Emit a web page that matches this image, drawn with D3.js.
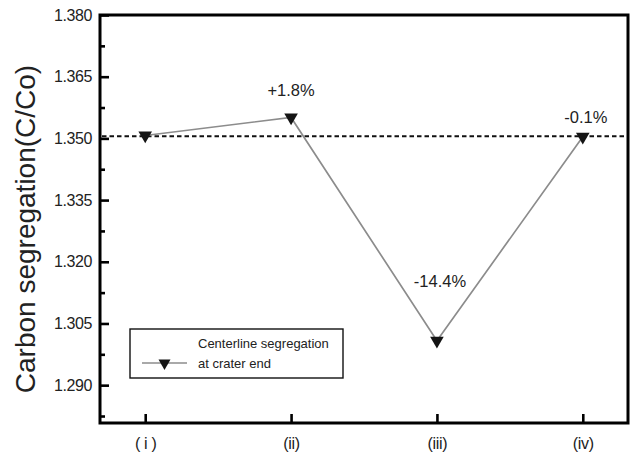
<!DOCTYPE html>
<html>
<head>
<meta charset="utf-8">
<script src="https://cdn.jsdelivr.net/npm/d3@7"></script>
<style>
  html, body { margin: 0; padding: 0; background: #fff; }
  svg { display: block; font-family: "Liberation Sans", Arial, Helvetica, sans-serif; }
</style>
</head>
<body>
<svg id="chart" width="637" height="455"></svg>
<script>
// Casting conditions on the x axis
const categories = ["( i )", "(ii)", "(iii)", "(iv)"];
// Centerline carbon segregation at the crater end (C/Co)
const segregation = [1.3507, 1.3551, 1.3008, 1.3504];
// Change relative to the reference condition
const changeLabels = ["", "+1.8%", "-14.4%", "-0.1%"];
// Reference level drawn as a dashed line
const referenceLevel = 1.3505;
// Axis ticks
const yMajorTicks = [1.290, 1.305, 1.320, 1.335, 1.350, 1.365, 1.380];
const yMinorTicks = [1.2825, 1.2975, 1.3125, 1.3275, 1.3425, 1.3575, 1.3725];
const yDomain = [1.2808, 1.380];
const legendLines = ["Centerline segregation", "at crater end"];

const svg = d3.select("#chart");
const plotLeft = 100, plotRight = 628, plotTop = 15, plotBottom = 423;

const x = d3.scalePoint().domain(categories).range([plotLeft, plotRight]).padding(0.31);
const y = d3.scaleLinear().domain(yDomain).range([plotBottom, plotTop]);

const axisColor = "#000";

// Y axis: major ticks with labels, minor ticks, both pointing inward
const yAxis = svg.append("g")
  .attr("transform", `translate(${plotLeft},0)`)
  .call(d3.axisLeft(y).tickValues(yMajorTicks).tickFormat(d3.format(".3f"))
    .tickSizeInner(-9).tickSizeOuter(0).tickPadding(8));
yAxis.select(".domain").remove();
yAxis.selectAll(".tick line").style("stroke", axisColor).style("stroke-width", "2.6px");
yAxis.selectAll(".tick text").attr("fill", "#222").attr("font-size", 16).attr("letter-spacing", -0.4);

const yMinor = svg.append("g")
  .attr("transform", `translate(${plotLeft},0)`)
  .call(d3.axisLeft(y).tickValues(yMinorTicks).tickFormat("")
    .tickSizeInner(-5).tickSizeOuter(0));
yMinor.select(".domain").remove();
yMinor.selectAll(".tick line").style("stroke", axisColor).style("stroke-width", "2.6px");

// X axis with inward ticks
const xAxis = svg.append("g")
  .attr("transform", `translate(0,${plotBottom})`)
  .call(d3.axisBottom(x).tickSizeInner(-9).tickSizeOuter(0).tickPadding(15));
xAxis.select(".domain").remove();
xAxis.selectAll(".tick line").style("stroke", axisColor).style("stroke-width", "2.6px");
xAxis.selectAll(".tick text").attr("fill", "#222").attr("font-size", 16).attr("letter-spacing", -0.3);

// Frame around the plot area, drawn as a closed path
svg.append("path")
  .attr("d", d3.path ? (() => {
    const p = d3.path();
    p.moveTo(plotLeft, plotTop);
    p.lineTo(plotRight, plotTop);
    p.lineTo(plotRight, plotBottom);
    p.lineTo(plotLeft, plotBottom);
    p.closePath();
    return p.toString();
  })() : "")
  .style("fill", "none")
  .style("stroke", "#000")
  .style("stroke-width", "3px");

// Reference level
svg.append("line")
  .attr("x1", plotLeft + 2).attr("x2", plotRight - 2)
  .attr("y1", y(referenceLevel)).attr("y2", y(referenceLevel))
  .attr("stroke", "#111").attr("stroke-width", 2)
  .attr("stroke-dasharray", "4.5,3");

const points = categories.map((c, i) => ({ c, v: segregation[i], label: changeLabels[i] }));

// Connecting line
svg.append("path")
  .datum(points)
  .attr("d", d3.line().x(d => x(d.c)).y(d => y(d.v)))
  .attr("fill", "none").attr("stroke", "#8c8c8c").attr("stroke-width", 1.7);

// Down-pointing triangle markers
const tri = d3.symbol().type(d3.symbolTriangle).size(80);
svg.append("g").selectAll("path")
  .data(points)
  .join("path")
  .attr("d", tri)
  .attr("transform", d => `translate(${x(d.c)},${y(d.v)}) rotate(180)`)
  .attr("fill", "#141414");

// Percentage annotations above selected points
const labelShift = { "(ii)": [0, -21], "(iii)": [3, -54], "(iv)": [3, -14] };
svg.append("g").selectAll("text")
  .data(points.filter(d => d.label))
  .join("text")
  .attr("x", d => x(d.c) + labelShift[d.c][0])
  .attr("y", d => y(d.v) + labelShift[d.c][1])
  .attr("text-anchor", "middle")
  .attr("font-size", 16.5)
  .attr("fill", "#222")
  .text(d => d.label);

// Y axis title
svg.append("text")
  .attr("transform", "translate(35,229) rotate(-90)")
  .attr("text-anchor", "middle")
  .attr("font-size", 28)
  .attr("fill", "#222")
  .text("Carbon segregation(C/Co)");

// Legend
const legend = svg.append("g");
legend.append("rect")
  .attr("x", 130).attr("y", 329).attr("width", 213).attr("height", 49)
  .attr("fill", "#fff").attr("stroke", "#111").attr("stroke-width", 1.4);
legend.append("line")
  .attr("x1", 142).attr("x2", 187).attr("y1", 363).attr("y2", 363)
  .attr("stroke", "#8c8c8c").attr("stroke-width", 1.7);
legend.append("path")
  .attr("d", d3.symbol().type(d3.symbolTriangle).size(62))
  .attr("transform", "translate(164.5,363) rotate(180)")
  .attr("fill", "#141414");
legend.selectAll("text.leg")
  .data(legendLines)
  .join("text")
  .attr("class", "leg")
  .attr("x", 198)
  .attr("y", (d, i) => 348 + i * 20)
  .attr("font-size", 13)
  .attr("fill", "#222")
  .text(d => d);
</script>
</body>
</html>
